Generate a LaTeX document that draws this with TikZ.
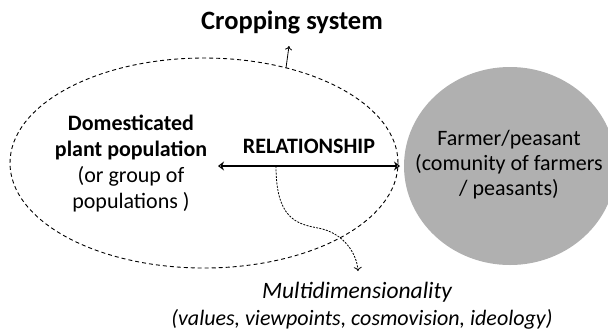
\documentclass[tikz,border=0pt]{standalone}
\usepackage{fontspec}
\setmainfont{Carlito}
\usetikzlibrary{arrows.meta,shapes.geometric}
\begin{document}
\begin{tikzpicture}[x=1pt,y=-1pt,
  txt/.style={font=\fontsize{22}{25}\selectfont, align=center, inner sep=0pt},
  dash1/.style={dash pattern=on 4pt off 3pt, line width=0.9pt},
  dotc/.style={dash pattern=on 2pt off 1.3pt, line width=0.8pt}]
\useasboundingbox (0,0) rectangle (608,333);
\node[ellipse, fill=black!31, minimum width=212pt, minimum height=198pt, inner sep=0pt] (farmer) at (510,166) {};
\node[ellipse, draw, dash1, minimum width=388pt, minimum height=210pt, inner sep=0pt] (el) at (204,163) {};
\node[txt, font=\fontsize{26.5}{28}\selectfont\bfseries] (crop) at (292,22) {Cropping system};
\node[txt, font=\fontsize{22}{26}\selectfont] (dom) at (131,164) {\textbf{Domesticated}\\\textbf{plant population}\\(or group of\\populations )};
\node[txt, font=\fontsize{22}{25}\selectfont\bfseries] (rel) at (309,146) {RELATIONSHIP};
\node[txt] (fp) at (509,165) {Farmer/peasant\\(comunity of farmers\\/ peasants)};
\node[txt, font=\fontsize{23.5}{25}\selectfont\itshape] (multi) at (357,292) {Multidimensionality};
\node[txt, font=\fontsize{22}{25}\selectfont\itshape] (vals) at (362,319) {(values, viewpoints, cosmovision, ideology)};
\coordinate (aL) at (218,166);
\coordinate (aR) at (400,166);
\coordinate (cs) at (276,166);
\coordinate (ce) at (286,68);
\draw[line width=1.6pt, {Stealth[open,length=6pt,width=9pt,line width=1.4pt]}-{Stealth[open,length=6pt,width=9pt,line width=1.4pt]}] (aL) -- (aR);
\draw[line width=0.8pt, -{To[length=4pt,width=7pt]}] (ce) -- (289,46);
\draw[dotc, -{To[length=4pt,width=8pt]}] (cs) .. controls (276,218) and (296,224) .. (318,228) .. controls (345,233) and (357,255) .. (358,271);
\end{tikzpicture}
\end{document}
